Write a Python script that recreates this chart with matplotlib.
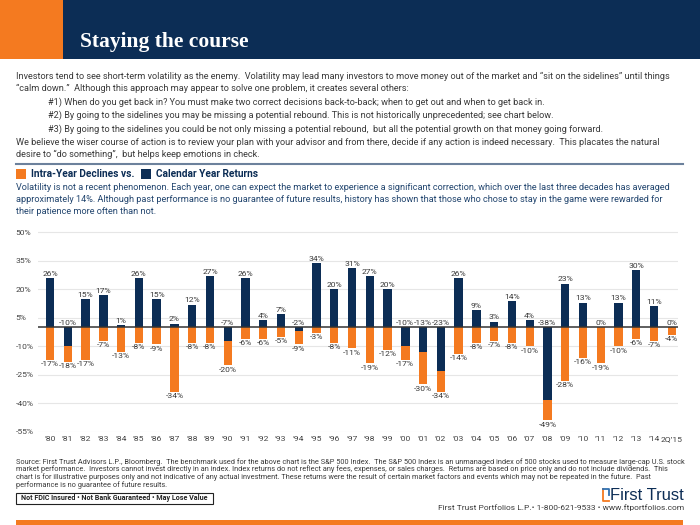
import numpy as np
import matplotlib.pyplot as plt
from matplotlib import font_manager as fm
from matplotlib.patches import Rectangle
from matplotlib.lines import Line2D

# Дані графіка
years = ["’80", "’81", "’82", "’83", "’84", "’85", "’86", "’87", "’88", "’89",
         "’90", "’91", "’92", "’93", "’94", "’95", "’96", "’97", "’98", "’99",
         "’00", "’01", "’02", "’03", "’04", "’05", "’06", "’07", "’08", "’09",
         "’10", "’11", "’12", "’13", "’14", "2Q’15"]
returns = [26, -10, 15, 17, 1, 26, 15, 2, 12, 27,
           -7, 26, 4, 7, -2, 34, 20, 31, 27, 20,
           -10, -13, -23, 26, 9, 3, 14, 4, -38, 23,
           13, 0, 13, 30, 11, 0]
declines = [-17, -18, -17, -7, -13, -8, -9, -34, -8, -8,
            -20, -6, -6, -5, -9, -3, -8, -11, -19, -12,
            -17, -30, -34, -14, -8, -7, -8, -10, -49, -28,
            -16, -19, -10, -6, -7, -4]
yticks = [50, 35, 20, 5, -10, -25, -40, -55]

NAVY = '#0c2d55'
ORANGE = '#f47a20'
GREY = '#3a3a3a'
BLUE_TXT = '#23466f'

W, H = 700, 525

# Roboto трохи вужчий за Arial; розмір підбирається під ширину рядка
FP = fm.FontProperties(family=['Roboto', 'Liberation Sans'])
FPB = fm.FontProperties(family=['Roboto', 'Liberation Sans'], weight='bold')


def fx(x):
    return x / W


def fy(y):
    return 1 - y / H


def rect(x0, y0, x1, y1, **kw):
    fig.add_artist(Rectangle((fx(x0), fy(y1)), (x1 - x0) / W, (y1 - y0) / H,
                             transform=fig.transFigure, **kw))


def line(xs, ys, **kw):
    fig.add_artist(Line2D([fx(x) for x in xs], [fy(y) for y in ys],
                          transform=fig.transFigure, **kw))


fig = plt.figure(figsize=(7, 5.25), dpi=100)
fig.patch.set_facecolor('white')
renderer = fig.canvas.get_renderer()


def size_for(s, width, fp):
    t = fig.text(0, 0, s, fontproperties=fp)
    t.set_fontsize(10)
    w = t.get_window_extent(renderer).width
    t.remove()
    return 10 * width / w


def put(x, y, s, size, fp, **kw):
    t = fig.text(fx(x), fy(y), s, fontproperties=fp, **kw)
    t.set_fontsize(size)
    return t


# Шапка
rect(0, 0, 700, 59, color=NAVY, lw=0)
rect(0, 0, 63, 59, color=ORANGE, lw=0)
fig.text(fx(80), fy(47), 'Staying the course', color='white', fontsize=15.5,
         fontweight='bold', family='Liberation Serif', va='baseline')

body = [
    (16, 76, 'Investors tend to see short-term volatility as the enemy.  Volatility may lead many investors to move money out of the market and “sit on the sidelines” until things'),
    (16, 88, '“calm down.”  Although this approach may appear to solve one problem, it creates several others:'),
    (48, 102, '#1) When do you get back in? You must make two correct decisions back-to-back; when to get out and when to get back in.'),
    (48, 115, '#2) By going to the sidelines you may be missing a potential rebound. This is not historically unprecedented; see chart below.'),
    (48, 129, '#3) By going to the sidelines you could be not only missing a potential rebound,  but all the potential growth on that money going forward.'),
    (16, 142, 'We believe the wiser course of action is to review your plan with your advisor and from there, decide if any action is indeed necessary.  This placates the natural'),
    (16, 154, 'desire to “do something”,  but helps keep emotions in check.'),
]
bsize = size_for(body[0][2], 655, FP)
for x, y, s in body:
    put(x, y, s, bsize, FP, color=GREY, va='center')

line([16, 683], [164, 164], color='#6c819c', lw=1.5)

# Легенда
hsize = size_for('Intra-Year Declines vs.', 103, FPB)
rect(16, 169, 26, 179, color=ORANGE, lw=0)
put(31, 174, 'Intra-Year Declines vs.', hsize, FPB, color=NAVY, va='center')
rect(141, 169, 151, 179, color=NAVY, lw=0)
put(156, 174, 'Calendar Year Returns', hsize, FPB, color=NAVY, va='center')

para = [
    'Volatility is not a recent phenomenon. Each year, one can expect the market to experience a significant correction, which over the last three decades has averaged',
    'approximately 14%. Although past performance is no guarantee of future results, history has shown that those who chose to stay in the game were rewarded for',
    'their patience more often than not.',
]
psize = size_for(para[0], 655, FP)
for i, s in enumerate(para):
    put(16, 187 + 12.5 * i, s, psize, FP, color=BLUE_TXT, va='center')

# Графік
ax = fig.add_axes([fx(38), fy(431.8), 640 / W, (431.8 - 228.5) / H])
x = np.arange(len(years))
ax.bar(x, declines, width=0.47, color=ORANGE, zorder=2)
ax.bar(x, returns, width=0.47, color=NAVY, zorder=3)
ax.axhline(0, color='#333333', lw=1.1, zorder=4)

lsize = size_for('-10%', 18, FP)
for i in range(len(years)):
    r, d = returns[i], declines[i]
    t = ax.annotate(f'{r}%', (x[i], max(r, 0)), xytext=(0, 0.8), textcoords='offset points',
                    ha='center', va='bottom', fontproperties=FP, color=GREY)
    t.set_fontsize(lsize)
    t = ax.annotate(f'{d}%', (x[i], d), xytext=(0, -1), textcoords='offset points',
                    ha='center', va='top', fontproperties=FP, color=GREY)
    t.set_fontsize(lsize)

ax.set_xlim(-0.68, len(years) - 0.65)
ax.set_ylim(-55, 52)
ax.set_yticks(yticks)
ax.set_yticklabels([f'{t}%' for t in yticks])
ax.set_xticks(x)
ax.set_xticklabels(years)
ax.grid(axis='y', color='#e6e6e6', lw=0.8, zorder=0)
ax.set_axisbelow(True)
for sp in ax.spines.values():
    sp.set_visible(False)
ax.tick_params(axis='both', length=0, labelcolor='#444444')
ax.tick_params(axis='y', pad=16)
ax.tick_params(axis='x', pad=3)
for lbl in ax.get_yticklabels() + ax.get_xticklabels():
    lbl.set_fontproperties(FP)
    lbl.set_fontsize(lsize)
for lbl in ax.get_yticklabels():
    lbl.set_ha('left')

# Примітки
source = [
    'Source: First Trust Advisors L.P., Bloomberg.  The benchmark used for the above chart is the S&P 500 Index.  The S&P 500 Index is an unmanaged index of 500 stocks used to measure large-cap U.S. stock',
    'market performance.  Investors cannot invest directly in an index. Index returns do not reflect any fees, expenses, or sales charges.  Returns are based on price only and do not include dividends.  This',
    'chart is for illustrative purposes only and not indicative of any actual investment. These returns were the result of certain market factors and events which may not be repeated in the future.  Past',
    'performance is no guarantee of future results.',
]
ssize = size_for(source[0], 664, FP)
for i, s in enumerate(source):
    put(16, 462 + 7.6 * i, s, ssize, FP, color=GREY, va='center')

rect(16, 493, 213, 504, fill=False, ec='#222222', lw=0.8)
box_txt = 'Not FDIC Insured • Not Bank Guaranteed • May Lose Value'
put(114.5, 498.5, box_txt, size_for(box_txt, 185, FPB), FPB,
    color='#222222', ha='center', va='center')

# Логотип
line([603, 603, 609], [489, 501, 501], color=ORANGE, lw=1.3)
line([603, 609, 609], [489, 489, 495], color='#2f6fb0', lw=1.3)
logo_fp = fm.FontProperties(family='Liberation Sans')
put(684, 495, 'First Trust', size_for('First Trust', 74, logo_fp), logo_fp,
    color=NAVY, ha='right', va='center')
contact = 'First Trust Portfolios L.P.• 1-800-621-9533 • www.ftportfolios.com'
put(684, 508, contact, size_for(contact, 244, FP), FP, color=GREY, ha='right', va='center')
rect(16, 520, 683, 526, color=ORANGE, lw=0)

plt.savefig('out.png', dpi=100)
